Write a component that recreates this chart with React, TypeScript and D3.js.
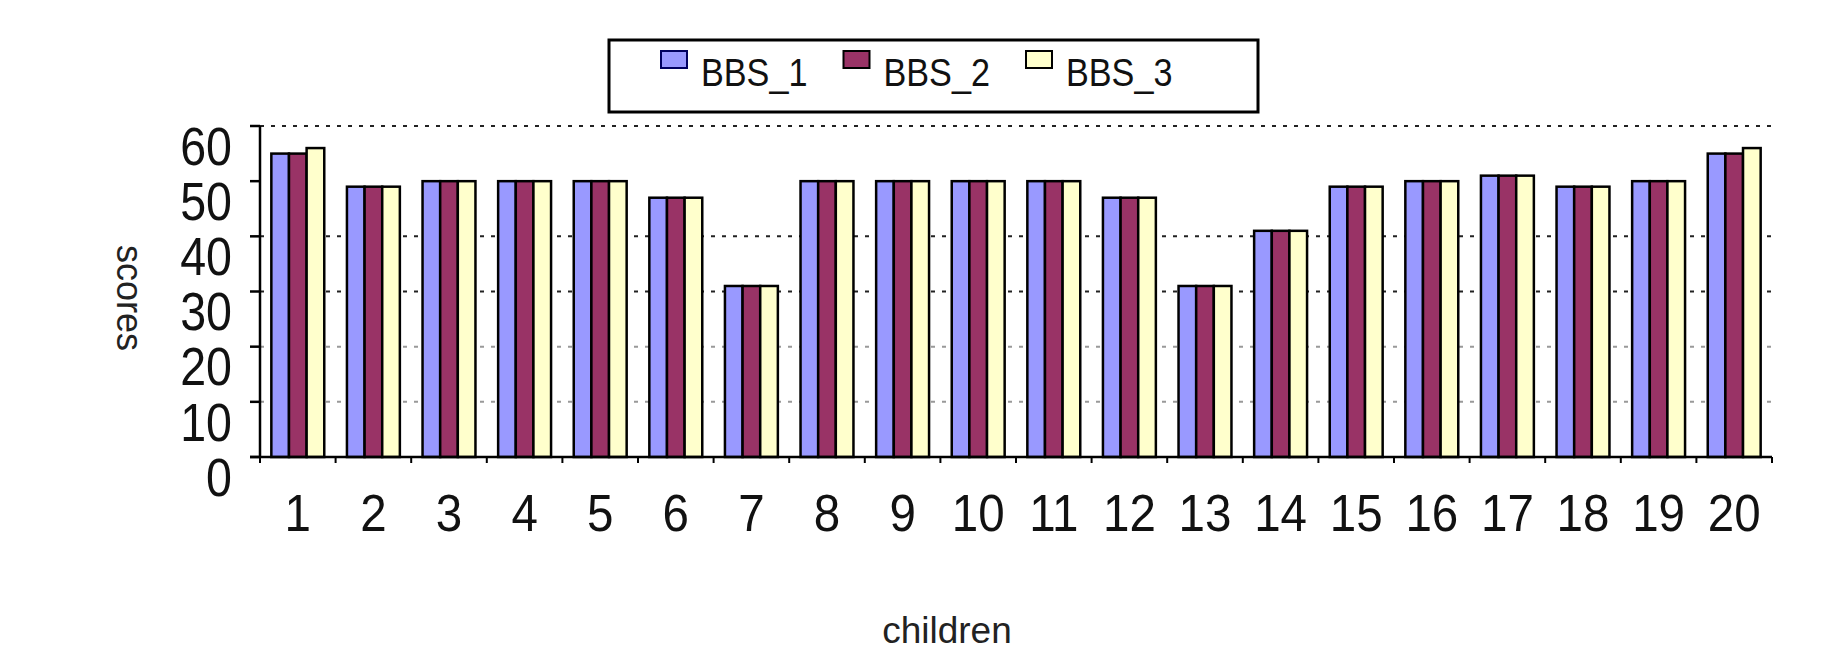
import { useMemo } from "react";
import * as d3 from "d3";

// children on the x axis
const CHILDREN = Array.from({ length: 20 }, (_, i) => String(i + 1));

const SERIES = ["BBS_1", "BBS_2", "BBS_3"];

const BBS_1 = [55, 49, 50, 50, 50, 47, 31, 50, 50, 50, 50, 47, 31, 41, 49, 50, 51, 49, 50, 55];
const BBS_2 = [55, 49, 50, 50, 50, 47, 31, 50, 50, 50, 50, 47, 31, 41, 49, 50, 51, 49, 50, 55];
const BBS_3 = [56, 49, 50, 50, 50, 47, 31, 50, 50, 50, 50, 47, 31, 41, 49, 50, 51, 49, 50, 56];

const Y_TICKS = [0, 10, 20, 30, 40, 50, 60];
const GRID_LINES = [10, 20, 30, 40, 60];

const COLORS: Record<string, string> = {
  BBS_1: "#9999ff",
  BBS_2: "#993366",
  BBS_3: "#ffffcc",
};

const FONT = "'Liberation Sans', Arial, sans-serif";

export default function App() {
  const width = 1828;
  const height = 650;
  const left = 260;
  const right = 1772;
  const top = 126;
  const bottom = 457;

  const values: Record<string, number[]> = { BBS_1, BBS_2, BBS_3 };

  const x = useMemo(
    () =>
      d3
        .scaleBand<string>()
        .domain(CHILDREN)
        .range([left, right])
        .paddingInner(0.3)
        .paddingOuter(0.15),
    []
  );

  const xs = useMemo(
    () => d3.scaleBand<string>().domain(SERIES).range([0, x.bandwidth()]),
    [x]
  );

  const y = useMemo(
    () => d3.scaleLinear().domain([0, 60]).range([bottom, top]),
    []
  );

  const step = x.step();
  const boundaries = d3.range(CHILDREN.length + 1).map((i) => left + i * step);

  const legendX = d3
    .scalePoint<string>()
    .domain(SERIES)
    .range([661, 1026]);

  return (
    <svg
      width={width}
      height={height}
      style={{ position: "absolute", left: 0, top: 0, background: "#fff" }}
      fontFamily={FONT}
    >
      {/* grid */}
      {GRID_LINES.map((v) => (
        <line
          key={v}
          x1={left}
          x2={right}
          y1={y(v)}
          y2={y(v)}
          stroke={v >= 30 ? "#222" : "#999"}
          strokeWidth={2}
          strokeDasharray="4,7"
        />
      ))}

      {/* bars */}
      {CHILDREN.map((c, i) => (
        <g key={c} transform={`translate(${x(c)},0)`}>
          {SERIES.map((s) => (
            <rect
              key={s}
              x={xs(s)}
              y={y(values[s][i])}
              width={xs.bandwidth()}
              height={y(0) - y(values[s][i])}
              fill={COLORS[s]}
              stroke="#000"
              strokeWidth={2.5}
            />
          ))}
        </g>
      ))}

      {/* y axis */}
      <line x1={left} x2={left} y1={y(60)} y2={y(0)} stroke="#000" strokeWidth={2.5} />
      {Y_TICKS.map((v) => (
        <g key={v}>
          <line x1={left - 10} x2={left} y1={y(v)} y2={y(v)} stroke="#000" strokeWidth={2.5} />
          <text
            transform={`translate(232,${y(v) + 20}) scale(0.95,1.1)`}
            textAnchor="end"
            dominantBaseline="central"
            fontSize={49}
            fill="#111"
          >
            {v}
          </text>
        </g>
      ))}

      {/* x axis */}
      <line x1={left - 10} x2={right} y1={bottom} y2={bottom} stroke="#000" strokeWidth={2.5} />
      {boundaries.map((bx, i) => (
        <line key={i} x1={bx} x2={bx} y1={bottom} y2={bottom + 6} stroke="#000" strokeWidth={2} />
      ))}
      {CHILDREN.map((c) => (
        <text
          key={c}
          transform={`translate(${(x(c) ?? 0) + x.bandwidth() / 2},531) scale(0.95,1.05)`}
          textAnchor="middle"
          fontSize={50}
          fill="#111"
        >
          {c}
        </text>
      ))}

      {/* axis titles */}
      <text
        transform={`translate(129,298) rotate(90)`}
        textAnchor="middle"
        dominantBaseline="central"
        fontSize={36}
        fill="#222"
      >
        scores
      </text>
      <text x={947} y={643} textAnchor="middle" fontSize={37} fill="#222">
        children
      </text>

      {/* legend */}
      <rect x={609} y={40} width={649} height={72} fill="#fff" stroke="#000" strokeWidth={3} />
      {SERIES.map((s) => (
        <g key={s} transform={`translate(${legendX(s)},0)`}>
          <rect
            x={0}
            y={51}
            width={26}
            height={17}
            fill={COLORS[s]}
            stroke={s === "BBS_1" ? "#000060" : "#000"}
            strokeWidth={2}
          />
          <text transform="translate(40,86) scale(0.95,1.1)" fontSize={36} fill="#111">
            {s}
          </text>
        </g>
      ))}
    </svg>
  );
}
